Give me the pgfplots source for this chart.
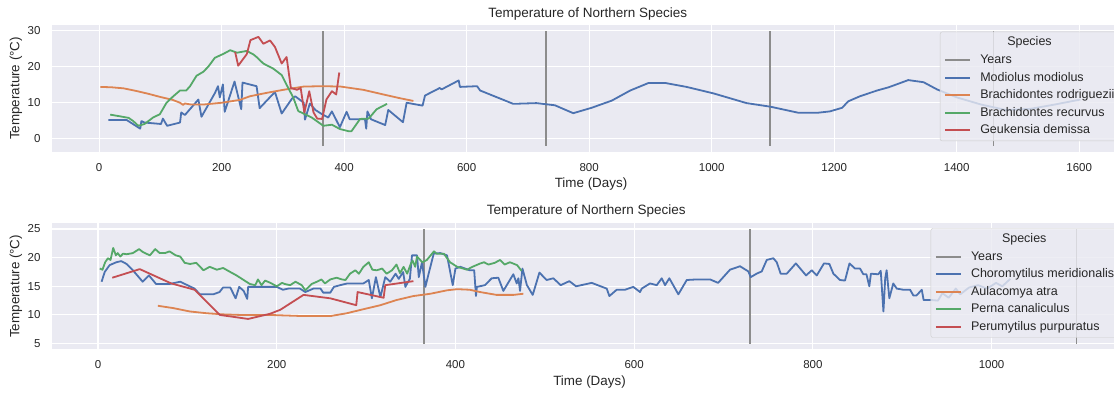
\documentclass[border=0pt]{standalone}
\usepackage{fontspec}
\setmainfont{Liberation Sans}
\usepackage{pgfplots}
\pgfplotsset{compat=1.18}
\definecolor{bg}{HTML}{EAEAF2}
\definecolor{sblue}{HTML}{4C72B0}
\definecolor{sorange}{HTML}{DD8452}
\definecolor{sgreen}{HTML}{55A868}
\definecolor{sred}{HTML}{C44E52}
\definecolor{txt}{HTML}{262626}
\definecolor{yrs}{HTML}{8C8C8C}
\definecolor{lframe}{HTML}{CCCCCC}
\pgfplotsset{
  sb/.style={
    scale only axis, anchor=south west,
    axis background/.style={fill=bg},
    grid=major, major grid style={white, line width=1.1pt},
    axis line style={draw=none}, tick style={draw=none},
    /pgf/number format/assume math mode=true,
    /pgf/number format/1000 sep={},
    tick label style={font=\fontsize{11.5}{13}\selectfont, text=txt},
    xticklabel style={yshift=-8pt}, yticklabel style={xshift=-8pt},
    label style={font=\fontsize{13.4}{16}\selectfont, text=txt},
    title style={font=\fontsize{13.5}{16}\selectfont, text=txt, anchor=center, yshift=-6pt},
    xlabel style={at={(axis description cs:0.5,-0.255)}, anchor=center},
    ylabel style={at={(axis description cs:-0.0334,0.5)}, anchor=center},
    legend cell align=left,
    legend image code/.code={\draw[##1, line width=2.1pt] (0pt,0pt) -- (25pt,0pt);},
    legend style={anchor=north west, fill=bg, fill opacity=0.8, text opacity=1,
      draw=lframe, rounded corners=2pt, font=\fontsize{12.5}{14}\selectfont, text=txt,
      row sep=5.6pt, inner xsep=4pt, inner ysep=4.5pt,
      nodes={inner sep=0pt, text height=9.5pt, text depth=2.5pt},
      /tikz/every odd column/.append style={column sep=9pt}},
    every axis plot/.append style={line width=1.8pt, line join=round},
  }
}
\begin{document}
\begin{tikzpicture}
% ---------------- top ----------------
\begin{axis}[sb, at={(52pt,240.3pt)}, width=1078pt, height=126.7pt,
  xmin=-77, xmax=1683, ymin=-3.6, ymax=31.6,
  xtick={0,200,...,1600}, ytick={0,10,20,30},
  title={Temperature of Northern Species},
  title style={at={(axis description cs:0.497,1.085)}},
  xlabel={Time (Days)}, ylabel={Temperature (°C)},
  legend style={at={(0.8237,0.947)}}]
\addlegendimage{empty legend}
\addplot[yrs] coordinates {(365,-2) (365,30)};
\addplot[yrs, forget plot] coordinates {(730,-2) (730,30)};
\addplot[yrs, forget plot] coordinates {(1095,-2) (1095,30)};
\addplot[yrs, forget plot] coordinates {(1460,-2) (1460,30)};
\addplot[sblue] coordinates {
(15,5.2)(45,5.2)(67,2.8)(69,4.9)(74,4.5)(101,4.1)(104,5.6)(111,3.6)(132,4.5)(134,7.3)
(140,6.6)(162,10.9)(167,6.1)(189,12.7)(194,14.6)(197,11.5)(202,15.1)(205,7.5)(221,15.9)
(232,8.2)(234,15.6)(257,14.6)(262,8.5)(287,13.0)(298,7.0)(315,11.2)(320,11.8)(334,10.0)
(336,5.3)(344,9.8)(353,8.0)(364,6.8)(374,5.9)(380,7.6)(393,3.2)(404,7.5)(409,5.4)(434,5.4)
(436,2.8)(438,7.6)(444,5.4)(467,3.8)(472,8.0)(496,4.6)(502,10.0)(528,9.2)(532,12.0)
(556,14.1)(559,13.7)(587,16.2)(589,14.4)(617,14.6)(622,13.4)(676,9.7)(714,9.9)(744,9.3)
(774,7.1)(804,8.6)(837,10.6)(867,13.4)(897,15.5)(924,15.5)(959,14.4)(1003,12.6)(1057,9.9)
(1096,8.9)(1142,7.2)(1172,7.2)(1193,7.6)(1213,8.6)(1223,10.4)(1242,11.8)(1270,13.4)
(1289,14.3)(1321,16.3)(1346,15.7)(1368,13.7)(1400,11.5)(1440,9.5)(1480,8.0)(1520,8.3)
(1560,9.5)(1602,10.9)};
\addplot[sorange] coordinates {
(2,14.4)(20,14.3)(40,14.0)(60,13.3)(80,12.5)(100,11.6)(120,10.8)(132,10.0)(137,9.4)
(140,9.8)(150,9.5)(170,9.5)(200,10.0)(230,10.8)(246,11.8)(275,12.8)(301,13.6)(334,14.5)
(365,14.6)(394,14.5)(431,13.6)(464,12.3)(490,11.3)(513,10.5)};
\addplot[sgreen] coordinates {
(18,6.7)(35,6.2)(48,5.8)(55,5.0)(64,3.6)(74,4.1)(88,5.9)(99,6.8)(110,10.0)(121,11.8)
(132,13.4)(142,13.4)(148,14.5)(159,17.5)(170,18.6)(178,20.0)(189,22.5)(203,23.6)(214,24.6)
(225,23.9)(241,24.4)(252,23.4)(257,22.7)(268,20.9)(284,19.5)(298,17.7)(306,15.0)(317,11.4)
(325,7.7)(336,6.8)(347,5.9)(366,3.6)(380,3.9)(393,2.7)(407,2.1)(412,2.1)(426,5.5)(440,5.6)
(453,8.2)(470,9.7)};
\addplot[sred] coordinates {
(222,24.1)(227,20.3)(241,23.5)(247,27.4)(260,28.3)(268,26.4)(279,27.3)(287,25.5)(298,20.9)
(306,22.7)(313,14.1)(323,13.6)(329,14.1)(335,7.3)(343,13.2)(350,7.3)(356,5.6)(364,5.5)
(371,10.9)(380,13.2)(387,12.3)(392,18.4)};
\legend{\hspace*{27pt}Species, Years, Modiolus modiolus, Brachidontes rodriguezii, Brachidontes recurvus, Geukensia demissa}
\end{axis}
% ---------------- bottom ----------------
\begin{axis}[sb, at={(52pt,42.7pt)}, width=1075pt, height=126pt,
  xmin=-51.5, xmax=1151.6, ymin=4, ymax=26,
  xtick={0,200,...,1000}, ytick={5,10,15,20,25},
  title={Temperature of Northern Species},
  title style={at={(axis description cs:0.497,1.095)}},
  xlabel={Time (Days)}, ylabel={Temperature (°C)},
  xlabel style={at={(axis description cs:0.5,-0.257)}},
  ylabel style={at={(axis description cs:-0.0335,0.5)}},
  legend style={at={(0.8174,0.960)}}]
\addlegendimage{empty legend}
\addplot[yrs] coordinates {(365,5) (365,25)};
\addplot[yrs, forget plot] coordinates {(730,5) (730,25)};
\addplot[yrs, forget plot] coordinates {(1095,5) (1095,25)};
\addplot[sblue] coordinates {
(4,15.8)(7.5,17.5)(13,18.7)(20.5,19.2)(26,19.4)(32,18.9)(39,17.8)(50,15.8)(57,16.9)(65,15.4)
(80,15.4)(92,15.8)(108,14.6)(114,13.6)(129,13.6)(136,14.0)(140,14.8)(148,14.8)(154,12.9)
(158,14.9)(163,14.2)(167,12.8)(168,14.9)(200,14.9)(207,14.4)(213,14.6)(226,14.6)(232,14.0)
(241,14.6)(249,14.6)(252,13.9)(260,13.9)(264,14.9)(271,15.2)(279,15.5)(297,15.5)(303,16.1)
(306.5,12.9)(311,16.6)(316,13.1)(321.5,16.6)(327,15.8)(333,17.2)(336.6,16.3)(341.5,17.5)
(344,14.9)(346,15.5)(349,16.3)(351.4,20.4)(357,20.4)(359,16.6)(362.6,19.2)(366.4,14.9)
(370,17.2)(375.7,20.7)(383,20.8)(390.6,20.4)(397,15.2)(400,18.1)(405.6,18.4)(416,17.8)
(421,17.8)(423,13.3)(424,14.9)(433,15.2)(440.6,16.4)(448,16.5)(453.6,14.2)(464.8,17.1)
(468.6,15.5)(470.5,16.4)(472.3,14.2)(475,18.1)(480,15.2)(486.5,13.5)(494,17.4)(502,16.1)
(509.6,16.4)(517.8,15.2)(527.5,15.9)(535,15.0)(552.5,15.6)(569.3,14.6)(572.3,13.3)
(580.5,14.4)(589.8,14.4)(599,14.9)(606.6,14.0)(608.5,14.6)(617.8,15.5)(625.3,15.2)
(630.9,16.4)(634.6,15.2)(639.4,16.4)(649.5,13.6)(658.9,16.1)(670,16.2)(685,16.2)(694,15.6)
(707.3,17.9)(718.5,18.5)(727.8,17.6)(730.5,16.6)(737,17.2)(742.8,17.6)(748.4,19.6)
(755.8,19.9)(759.6,19.2)(764,17.2)(770.8,17.2)(781,19.0)(792.4,16.9)(798.8,17.8)(804.4,16.9)
(812.5,19.0)(818.5,18.9)(823,17.2)(830.4,16.1)(836,16.0)(841,19.0)(847.2,18.1)(852.8,18.1)
(856.5,17.1)(860,17.1)(863.2,15.0)(865,17.2)(873.3,17.1)(876,17.7)(879,10.6)(881,16.4)
(882.6,17.8)(885.6,12.9)(890,15.5)(893.9,14.6)(901.3,14.4)(908.8,14.4)(912.5,13.4)(916,13.4)
(921.9,14.4)(924,12.6)(933,12.6)(940,12.5)(945,13.8)(952,13.0)(960,14.6)(965,13.6)(975,14.8)
(985,15.2)(995,14.6)(1005,15.6)(1012,15.0)(1021,16.3)};
\addplot[sorange] coordinates {
(67,11.6)(84,11.2)(103,10.6)(121.5,10.3)(140,10.1)(159,10.0)(192,10.0)(230,9.8)(260,9.8)
(278.5,10.3)(297,11.0)(316,11.7)(334,12.6)(353,13.3)(372,13.7)(390.6,14.3)(402,14.5)
(416,14.4)(427.5,14.0)(446,13.5)(465,13.5)(476,13.7)};
\addplot[sgreen] coordinates {
(2,18.1)(5,17.9)(8,19.2)(11,19.9)(14,19.6)(17,21.7)(20,20.4)(22,20.8)(25,20.2)(28,20.7)
(32,20.6)(39,20.8)(46,21.5)(50,21.0)(58,20.4)(64,21.5)(69,20.8)(75,20.8)(80,21.1)(87,20.4)
(92,20.2)(97,19.1)(103,18.9)(110,19.1)(118,17.8)(125,18.4)(133,17.9)(140,18.2)(148,17.5)
(155,16.9)(163,16.1)(170,15.4)(176,15.2)(179,16.2)(183,15.2)(187,16.0)(193,15.6)(200,15.0)
(206,15.6)(209,15.4)(215,15.2)(221,15.8)(228,15.2)(232,14.3)(239,15.4)(245,15.8)(250,16.2)
(254,15.5)(260,16.2)(267,16.5)(273,16.2)(277,16.1)(282,17.2)(288,17.8)(292,17.2)(297,18.4)
(303,19.2)(307,17.9)(312,17.8)(318,18.1)(323,17.2)(329,17.8)(334,18.8)(338,17.3)(342,18.4)
(346,17.2)(350,18.9)(352,19.5)(355,18.4)(357,20.2)(363,19.2)(368,19.6)(376,21.1)(379,20.7)
(387,20.7)(394,19.2)(402,18.4)(413,17.9)(419,18.4)(428,19.0)(432,19.2)(437,18.8)(444,19.1)
(450,19.6)(455,18.8)(461,19.2)(469,18.7)(474,17.7)};
\addplot[sred] coordinates {
(16,16.5)(46.7,18.0)(82,15.5)(108,14.4)(136.4,10.0)(168,9.3)(192.5,10.2)(204,10.9)(230,13.5)
(260,12.9)(289,11.7)(290.5,14.0)(319.6,13.0)(321.5,15.2)(353,15.9)};
\legend{\hspace*{31pt}Species, Years, Choromytilus meridionalis, Aulacomya atra, Perna canaliculus, Perumytilus purpuratus}
\end{axis}
\pgfresetboundingbox
\path[use as bounding box] (0pt,0pt) rectangle (1114pt,392pt);
\end{tikzpicture}
\end{document}
